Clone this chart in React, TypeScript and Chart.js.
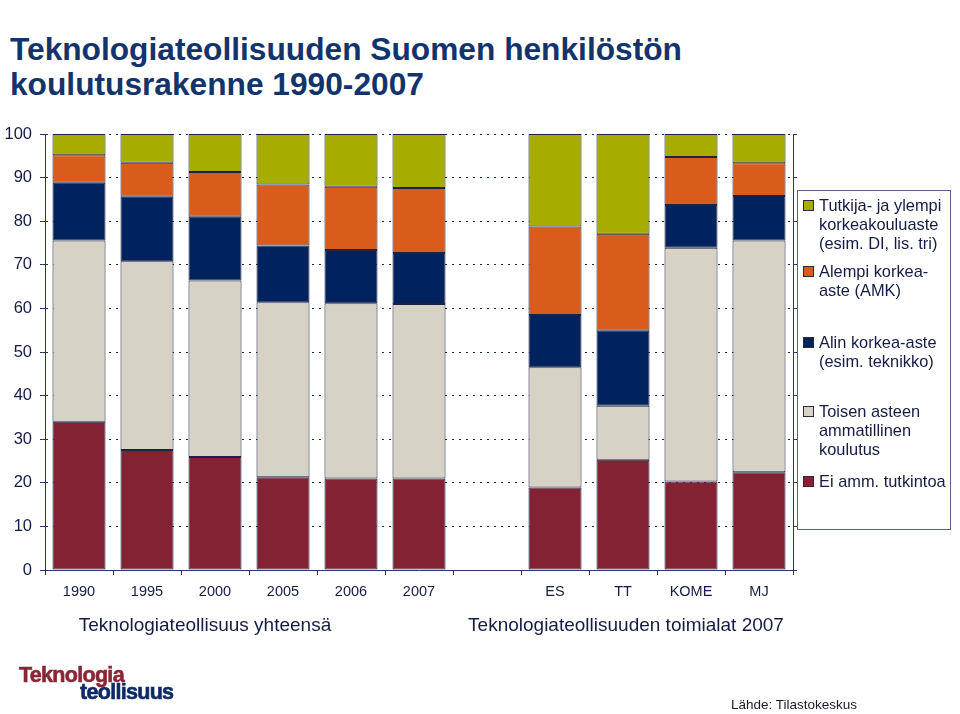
import React, { useEffect, useRef } from "react";
import { Chart, registerables } from "chart.js";

Chart.register(...registerables);

const categories = ["1990", "1995", "2000", "2005", "2006", "2007", "", "ES", "TT", "KOME", "MJ"];

const eiAmm = [34.0, 27.5, 25.9, 21.3, 21.0, 21.0, null, 18.9, 25.3, 20.3, 22.4];
const toisenAsteen = [41.6, 43.3, 40.5, 40.1, 40.2, 40.0, null, 27.6, 12.4, 53.6, 53.2];
const alinKorkea = [13.2, 14.8, 14.6, 13.0, 12.2, 11.7, null, 12.0, 17.2, 9.8, 10.2];
const alempiKorkea = [6.3, 7.8, 10.3, 14.0, 14.5, 14.9, null, 20.3, 22.2, 11.0, 7.5];
const tutkija = [4.9, 6.6, 8.7, 11.6, 12.1, 12.4, null, 21.2, 22.9, 5.3, 6.7];

const yTicks = [0, 10, 20, 30, 40, 50, 60, 70, 80, 90, 100];

const seriesNames = [
  "Ei amm. tutkintoa",
  "Toisen asteen ammatillinen koulutus",
  "Alin korkea-aste (esim. teknikko)",
  "Alempi korkea-aste (AMK)",
  "Tutkija- ja ylempi korkeakouluaste (esim. DI, lis. tri)",
];

const COLORS = {
  maroon: "#832232",
  grey: "#d6d3c6",
  navy: "#00235f",
  orange: "#d95c1c",
  green: "#a6ad00",
};

const legendItems = [
  { lines: ["Tutkija- ja ylempi", "korkeakouluaste", "(esim. DI, lis. tri)"], color: COLORS.green, top: 195.5 },
  { lines: ["Alempi korkea-", "aste (AMK)"], color: COLORS.orange, top: 261.5 },
  { lines: ["Alin korkea-aste", "(esim. teknikko)"], color: COLORS.navy, top: 332.5 },
  { lines: ["Toisen asteen", "ammatillinen", "koulutus"], color: COLORS.grey, top: 401.5 },
  { lines: ["Ei amm. tutkintoa"], color: COLORS.maroon, top: 471.5 },
];

const groupLabels = [
  { text: "Teknologiateollisuus yhteensä", center: 205 },
  { text: "Teknologiateollisuuden toimialat 2007", center: 626 },
];

const TEXT = "#141c44";
const AXIS = "#2a3563";
const FONT = "'Liberation Sans', Arial, sans-serif";

export default function App() {
  const canvasRef = useRef<HTMLCanvasElement | null>(null);

  useEffect(() => {
    const canvas = canvasRef.current;
    if (!canvas) return;
    const mk = (label: string, data: (number | null)[], color: string) => ({
      label,
      data,
      backgroundColor: color,
      borderColor: "#1a2340",
      borderWidth: 1,
      borderSkipped: false as const,
      barPercentage: 0.78,
      categoryPercentage: 1,
    });
    const chart = new Chart(canvas, {
      type: "bar",
      data: {
        labels: categories,
        datasets: [
          mk(seriesNames[0], eiAmm, COLORS.maroon),
          mk(seriesNames[1], toisenAsteen, COLORS.grey),
          mk(seriesNames[2], alinKorkea, COLORS.navy),
          mk(seriesNames[3], alempiKorkea, COLORS.orange),
          mk(seriesNames[4], tutkija, COLORS.green),
        ],
      },
      options: {
        responsive: false,
        animation: false,
        devicePixelRatio: 1,
        layout: { padding: { left: 0, top: 134, right: 163, bottom: 104 } },
        plugins: {
          legend: { display: false },
          tooltip: { enabled: false },
          title: { display: false },
        },
        scales: {
          x: {
            stacked: true,
            grid: {
              drawOnChartArea: false,
              drawTicks: true,
              tickLength: 5,
              tickColor: AXIS,
              offset: true,
            },
            border: { display: true, color: AXIS, width: 1 },
            ticks: {
              color: TEXT,
              font: { family: FONT, size: 14.5 },
              padding: 8,
              maxRotation: 0,
              autoSkip: false,
            },
            afterFit: (s: any) => {
              s.height = 40;
            },
          },
          y: {
            stacked: true,
            min: 0,
            max: 100,
            afterBuildTicks: (s: any) => {
              s.ticks = yTicks.map((v) => ({ value: v }));
            },
            grid: {
              color: "#1c2a55",
              lineWidth: 1,
              tickLength: 5,
              tickColor: AXIS,
              drawTicks: true,
            },
            border: { display: true, color: AXIS, width: 1, dash: [2, 5] },
            ticks: {
              color: TEXT,
              font: { family: FONT, size: 16.5 },
              padding: 8,
            },
            afterFit: (s: any) => {
              s.width = 45;
            },
          },
          y2: {
            position: "right",
            min: 0,
            max: 100,
            afterBuildTicks: (s: any) => {
              s.ticks = yTicks.map((v) => ({ value: v }));
            },
            grid: {
              drawOnChartArea: false,
              tickLength: 4,
              tickColor: AXIS,
            },
            border: { display: true, color: AXIS, width: 1 },
            ticks: { display: false },
            afterFit: (s: any) => {
              s.width = 4;
            },
          },
        },
      } as any,
    });
    return () => chart.destroy();
  }, []);

  return (
    <div
      style={{
        position: "absolute",
        left: 0,
        top: 0,
        width: 960,
        height: 714,
        background: "#ffffff",
        fontFamily: FONT,
        overflow: "hidden",
      }}
    >
      <div
        style={{
          position: "absolute",
          left: 10,
          top: 31.5,
          fontSize: 31.7,
          lineHeight: "35px",
          fontWeight: "bold",
          color: "#12336c",
          whiteSpace: "nowrap",
        }}
      >
        Teknologiateollisuuden Suomen henkilöstön
        <br />
        koulutusrakenne 1990-2007
      </div>

      <canvas
        ref={canvasRef}
        width={960}
        height={714}
        style={{ position: "absolute", left: 0, top: 0, width: 960, height: 714 }}
      />

      {groupLabels.map((g) => (
        <div
          key={g.text}
          style={{
            position: "absolute",
            left: g.center - 200,
            width: 400,
            top: 614,
            textAlign: "center",
            fontSize: 19,
            lineHeight: "22px",
            color: TEXT,
            whiteSpace: "nowrap",
          }}
        >
          {g.text}
        </div>
      ))}

      <div
        style={{
          position: "absolute",
          left: 797,
          top: 190,
          width: 152,
          height: 338,
          border: "1.5px solid #55658a",
          background: "transparent",
        }}
      />
      {legendItems.map((it, i) => (
        <div key={i}>
          <div
            style={{
              position: "absolute",
              left: 803,
              top: it.top + 4.5,
              width: 9,
              height: 9,
              background: it.color,
              border: "1px solid #2a2a3a",
            }}
          />
          <div
            style={{
              position: "absolute",
              left: 819,
              top: it.top,
              fontSize: 16.4,
              lineHeight: "19px",
              color: TEXT,
              whiteSpace: "nowrap",
            }}
          >
            {it.lines.map((l, j) => (
              <div key={j}>{l}</div>
            ))}
          </div>
        </div>
      ))}

      <div
        style={{
          position: "absolute",
          left: 19,
          top: 665,
          fontSize: 21.5,
          lineHeight: "21px",
          fontWeight: 900,
          letterSpacing: -0.7,
          color: "#8a2636",
          whiteSpace: "nowrap",
          WebkitTextStroke: "0.6px #8a2636",
        }}
      >
        Teknologia
      </div>
      <div
        style={{
          position: "absolute",
          left: 80,
          top: 682,
          fontSize: 21.5,
          lineHeight: "21px",
          fontWeight: 900,
          letterSpacing: -0.7,
          color: "#0e2a66",
          whiteSpace: "nowrap",
          WebkitTextStroke: "0.6px #0e2a66",
        }}
      >
        teollisuus
      </div>

      <div
        style={{
          position: "absolute",
          left: 731,
          top: 697,
          fontSize: 13.5,
          lineHeight: "16px",
          color: "#1a1a2a",
          whiteSpace: "nowrap",
        }}
      >
        Lähde: Tilastokeskus
      </div>
    </div>
  );
}
